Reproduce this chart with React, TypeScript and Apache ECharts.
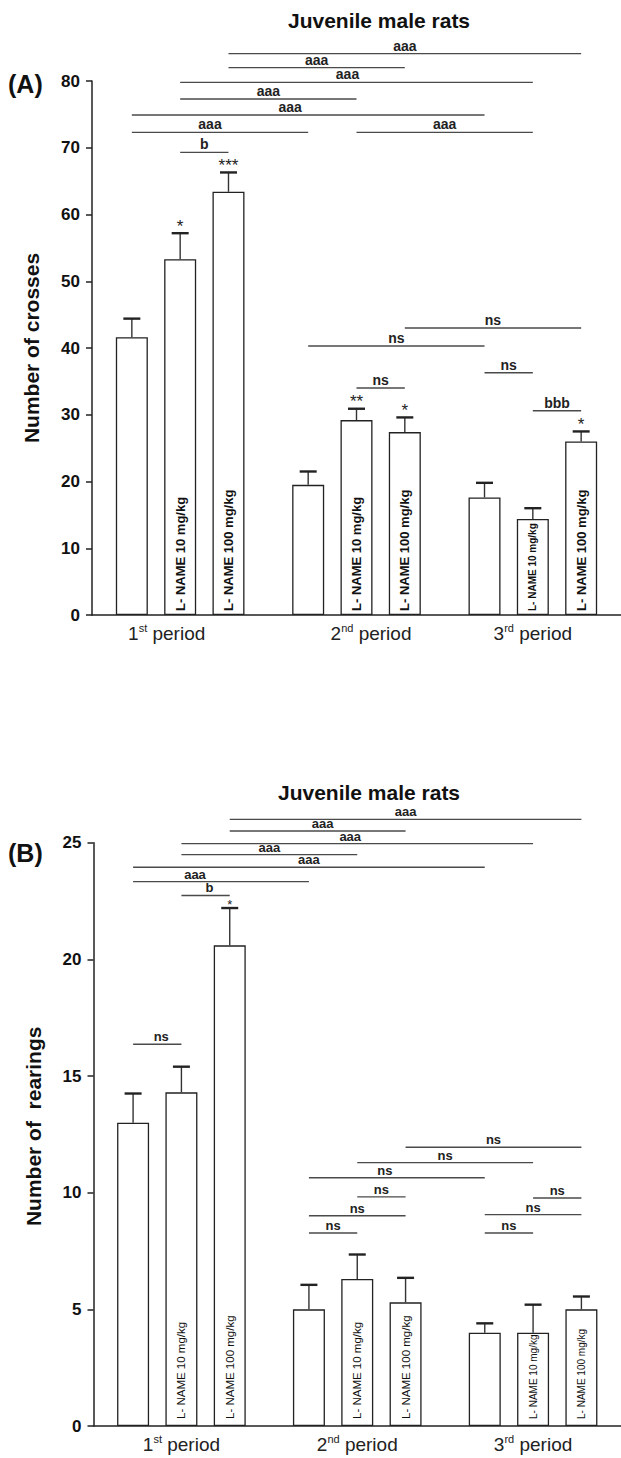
import React, { useEffect, useRef } from 'react';
import * as echarts from 'echarts';

const periods = ['1st period', '2nd period', '3rd period'];
const treatments = ['Control', 'L-NAME 10 mg/kg', 'L-NAME 100 mg/kg'];
const doseLabels = ['', 'L- NAME 10 mg/kg', 'L- NAME 100 mg/kg'];
const chartTitle = 'Juvenile male rats';

// Panel A: number of crosses (rows = treatment, columns = period)
const crossesMean = [
  [41.6, 19.5, 17.6],
  [53.3, 29.2, 14.4],
  [63.4, 27.4, 26.0],
];
const crossesSem = [
  [2.8, 2.0, 2.2],
  [3.9, 1.7, 1.6],
  [2.9, 2.2, 1.5],
];
const crossesStars = [
  ['', '', ''],
  ['*', '**', ''],
  ['***', '*', '*'],
];
const crossesTicks = [0, 10, 20, 30, 40, 50, 60, 70, 80];
// [from bar, to bar, level, label]; bar = period * 3 + treatment
const crossesBrackets: [number, number, number, string][] = [
  [2, 8, 84.1, 'aaa'],
  [2, 5, 82.0, 'aaa'],
  [1, 7, 79.8, 'aaa'],
  [1, 4, 77.3, 'aaa'],
  [0, 6, 74.9, 'aaa'],
  [0, 3, 72.3, 'aaa'],
  [4, 7, 72.3, 'aaa'],
  [1, 2, 69.3, 'b'],
  [5, 8, 43.0, 'ns'],
  [3, 6, 40.3, 'ns'],
  [6, 7, 36.3, 'ns'],
  [4, 5, 34.0, 'ns'],
  [7, 8, 30.6, 'bbb'],
];

// Panel B: number of rearings
const rearingsMean = [
  [13.0, 5.0, 4.0],
  [14.3, 6.3, 4.0],
  [20.6, 5.3, 5.0],
];
const rearingsSem = [
  [1.25, 1.05, 0.4],
  [1.1, 1.05, 1.2],
  [1.6, 1.05, 0.55],
];
const rearingsStars = [
  ['', '', ''],
  ['', '', ''],
  ['*', '', ''],
];
const rearingsTicks = [0, 5, 10, 15, 20, 25];
const rearingsBrackets: [number, number, number, string][] = [
  [2, 8, 26.0, 'aaa'],
  [2, 5, 25.5, 'aaa'],
  [1, 7, 24.96, 'aaa'],
  [1, 4, 24.49, 'aaa'],
  [0, 6, 23.95, 'aaa'],
  [0, 3, 23.33, 'aaa'],
  [1, 2, 22.74, 'b'],
  [0, 1, 16.36, 'ns'],
  [5, 8, 11.95, 'ns'],
  [4, 7, 11.29, 'ns'],
  [3, 6, 10.64, 'ns'],
  [4, 5, 9.82, 'ns'],
  [3, 5, 9.01, 'ns'],
  [3, 4, 8.27, 'ns'],
  [7, 8, 9.77, 'ns'],
  [6, 8, 9.06, 'ns'],
  [6, 7, 8.27, 'ns'],
];

const FONT = '"Liberation Sans", Arial, Helvetica, sans-serif';
const BAR_W = 32;
const BAR_GAP = 0.51;
const STEP = BAR_W * (1 + BAR_GAP);

function barX(api: any, bar: number) {
  const p = Math.floor(bar / 3);
  const t = bar % 3;
  return api.coord([p, 0])[0] + (t - 1) * STEP;
}

function buildPanel(idx: number, cfg: any) {
  const { means, sems, stars, brackets, bold, compact, labelSize, labelDist, starSize, starOff, bracketFont, shifts } = cfg;
  const series: any[] = [];
  treatments.forEach((name, t) => {
    series.push({
      type: 'bar',
      name,
      xAxisIndex: idx,
      yAxisIndex: idx,
      barWidth: BAR_W,
      barGap: BAR_GAP * 100 + '%',
      itemStyle: { color: '#ffffff', borderColor: '#222', borderWidth: 1.3 },
      label: {
        show: t > 0,
        position: 'insideBottom',
        rotate: 90,
        align: 'left',
        verticalAlign: 'middle',
        distance: labelDist,
        formatter: doseLabels[t],
        fontFamily: FONT,
        fontWeight: bold ? 'bold' : 'normal',
        fontSize: labelSize,
        color: '#111',
      },
      data: means[t].map((v: number, p: number) =>
        compact(p, t) ? { value: v, label: { fontSize: 10 } } : { value: v }
      ),
      z: 2,
    });
  });
  const errData: number[][] = [];
  treatments.forEach((_, t) => {
    periods.forEach((__, p) => {
      errData.push([p, means[t][p], sems[t][p], t]);
    });
  });
  series.push({
    type: 'custom',
    xAxisIndex: idx,
    yAxisIndex: idx,
    clip: false,
    silent: true,
    z: 5,
    data: errData,
    renderItem: (params: any, api: any) => {
      const p = api.value(0);
      const m = api.value(1);
      const s = api.value(2);
      const t = api.value(3);
      const x = api.coord([p, m])[0] + (t - 1) * STEP;
      const y0 = api.coord([p, m])[1];
      const y1 = api.coord([p, m + s])[1];
      const children: any[] = [
        { type: 'line', shape: { x1: x, y1: y0, x2: x, y2: y1 }, style: { stroke: '#333', lineWidth: 1.4 } },
        { type: 'line', shape: { x1: x - 8.5, y1: y1, x2: x + 8.5, y2: y1 }, style: { stroke: '#222', lineWidth: 2.4 } },
      ];
      const star = stars[t][p];
      if (star) {
        children.push({
          type: 'text',
          style: {
            text: star,
            x,
            y: y1 - starOff,
            fill: '#222',
            font: `${starSize}px ${FONT}`,
            textAlign: 'center',
            textVerticalAlign: 'middle',
          },
        });
      }
      return { type: 'group', children };
    },
  });
  series.push({
    type: 'custom',
    xAxisIndex: idx,
    yAxisIndex: idx,
    clip: false,
    silent: true,
    z: 6,
    data: brackets.map((b: any) => [1, b[2]]),
    renderItem: (params: any, api: any) => {
      const b = brackets[params.dataIndex];
      const x1 = barX(api, b[0]);
      const x2 = barX(api, b[1]);
      const y = api.coord([1, b[2]])[1];
      const cx = (x1 + x2) / 2 + (shifts[params.dataIndex] || 0);
      return {
        type: 'group',
        children: [
          { type: 'line', shape: { x1, y1: y, x2, y2: y }, style: { stroke: '#4a4a4a', lineWidth: 1.4 } },
          {
            type: 'text',
            style: {
              text: b[3],
              x: cx,
              y: y - 1,
              fill: '#222',
              font: `bold ${bracketFont}px ${FONT}`,
              textAlign: 'center',
              textVerticalAlign: 'bottom',
            },
          },
        ],
      };
    },
  });
  return series;
}

function supLabel(value: string, shiftL: number, shiftR: number) {
  const m = value.match(/^(\d)(st|nd|rd|th) (.*)$/);
  if (!m) return value;
  return `{${shiftL ? 'nl' : 'n'}|${m[1]}}{s|${m[2]}}{${shiftR ? 'nr' : 'n'}| ${m[3]}}`;
}

function xAxisFor(idx: number, shifts: number[][]) {
  return {
    type: 'category',
    gridIndex: idx,
    data: periods,
    axisTick: { show: false },
    axisLine: { lineStyle: { color: '#222', width: 1.5 } },
    axisLabel: {
      margin: 7,
      formatter: (v: string, i: number) => {
        const sh = shifts[i] || [0, 0];
        return supLabel(v, sh[0], sh[1]);
      },
      rich: {
        n: { fontFamily: FONT, fontSize: 19, color: '#222', lineHeight: 22 },
        nl: { fontFamily: FONT, fontSize: 19, color: '#222', lineHeight: 22, padding: [0, 0, 0, 29] },
        nr: { fontFamily: FONT, fontSize: 19, color: '#222', lineHeight: 22, padding: [0, 27, 0, 0] },
        s: { fontFamily: FONT, fontSize: 11, color: '#222', verticalAlign: 'top', lineHeight: 12 },
      },
    },
  };
}

function yAxisFor(idx: number, ticks: number[], name: string, namePad: number[]) {
  return {
    type: 'value',
    gridIndex: idx,
    min: ticks[0],
    max: ticks[ticks.length - 1],
    interval: ticks[1] - ticks[0],
    name,
    nameLocation: 'middle',
    nameGap: 50,
    nameTextStyle: { fontFamily: FONT, fontWeight: 'bold', fontSize: 21, color: '#111', padding: namePad },
    axisLine: { show: true, lineStyle: { color: '#222', width: 1.5 } },
    axisTick: { show: true, length: 6, lineStyle: { color: '#222', width: 1.5 } },
    splitLine: { show: false },
    axisLabel: { fontFamily: FONT, fontWeight: 'bold', fontSize: 17, color: '#111', margin: 12 },
  };
}

export default function App() {
  const ref = useRef<HTMLDivElement>(null);
  useEffect(() => {
    if (!ref.current) return;
    const chart = echarts.init(ref.current, undefined, { renderer: 'svg' });
    const seriesA = buildPanel(0, {
      means: crossesMean,
      sems: crossesSem,
      stars: crossesStars,
      brackets: crossesBrackets,
      bold: true,
      compact: (p: number, t: number) => p === 2 && t === 1,
      labelSize: 13,
      labelDist: 4,
      starSize: 17,
      starOff: 7,
      bracketFont: 14,
      shifts: [0, 0, -9, 0, -18, -10],
    });
    const seriesB = buildPanel(1, {
      means: rearingsMean,
      sems: rearingsSem,
      stars: rearingsStars,
      brackets: rearingsBrackets,
      bold: false,
      compact: (p: number, t: number) => p === 2 && t > 0,
      labelSize: 11.5,
      labelDist: 7,
      starSize: 13,
      starOff: 4,
      bracketFont: 13,
      shifts: [0, 5, -7, 0, 0, -26, 4, 4, 0, 0, -12],
    });
    chart.setOption({
      animation: false,
      backgroundColor: '#ffffff',
      grid: [
        { left: 92, top: 81, width: 531, height: 534 },
        { left: 93.5, top: 842.7, width: 534.6, height: 583.3 },
      ],
      xAxis: [xAxisFor(0, [[0, 1], [1, 0]]), xAxisFor(1, [])],
      yAxis: [
        yAxisFor(0, crossesTicks, 'Number of crosses', [0, 0, 0, 0]),
        yAxisFor(1, rearingsTicks, 'Number of  rearings', [0, 0, 0, 16]),
      ],
      graphic: [
        { type: 'text', left: 8, top: 71, style: { text: '(A)', font: `bold 25px ${FONT}`, fill: '#111' } },
        { type: 'text', left: 8, top: 840, style: { text: '(B)', font: `bold 25px ${FONT}`, fill: '#111' } },
        { type: 'text', x: 379, y: 10, style: { text: chartTitle, font: `bold 21px ${FONT}`, fill: '#111', textAlign: 'center', textVerticalAlign: 'top' } },
        { type: 'text', x: 369, y: 782, style: { text: chartTitle, font: `bold 21px ${FONT}`, fill: '#111', textAlign: 'center', textVerticalAlign: 'top' } },
      ],
      series: [...seriesA, ...seriesB],
    });
    return () => chart.dispose();
  }, []);
  return (
    <div
      ref={ref}
      style={{ position: 'absolute', left: 0, top: 0, width: 621, height: 1458, background: '#fff' }}
    />
  );
}
